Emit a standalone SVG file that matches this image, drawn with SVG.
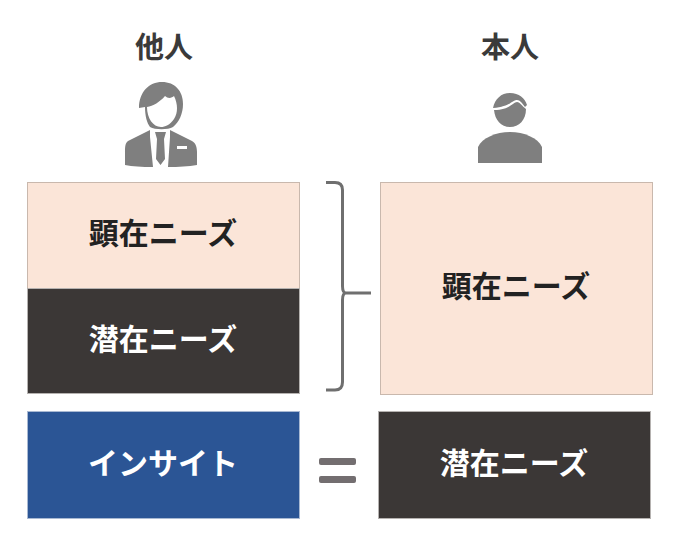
<svg xmlns="http://www.w3.org/2000/svg" width="678" height="547" viewBox="0 0 678 547">
<style>
text{font-family:"Noto Sans CJK JP","Noto Sans",sans-serif;font-weight:700;text-anchor:middle}
.h{font-size:29px;fill:#3a3a3a}
.l{font-size:30px}
.d{fill:#222}
.w{fill:#fff}
.pe{fill:#fbe5d8;stroke:#c9b8ad;stroke-width:1}
.dk{fill:#3b3736;stroke:#b5b2b0;stroke-width:1}
.ic{fill:#7f7f7f}
</style>
<rect width="678" height="547" fill="#fff"/>
<g id="label-other"><text class="h" x="164" y="58">他人</text></g>
<g id="label-self"><text class="h" x="510" y="58">本人</text></g>
<g id="icon-other">
<path class="ic" d="M139 108C139 92 149 82 162 82C175 82 183 91 183 104C183 114 179 122 173 127C168 130 155 130 150 127C147 123 145 116 145 107Z"/>
<path fill="#fff" d="M147 107C153 106 160 102 165 96C168 99 172 98 174 96C178 104 178 113 174 119C170 125 165 127 161 127C153 127 147 118 147 107Z"/>
<path class="ic" d="M150 130L128 141C125 143 125 148 125 152L125 165Q136 167 153 167L150 137ZM170 130L192 141C196 143 197 148 197 152L197 165Q184 167 168 167L170 137Z"/>
<path class="ic" d="M155 132H166L164 139L165 159L160.500 165L156 159L157 139Z"/>
<rect x="177" y="146" width="10" height="3" fill="#fff"/>
</g>
<g id="icon-self">
<path class="ic" d="M493 108C495 99 501 93 510 93C519 93 525 98 527 105L525 107C522 103 520 100 517 100C512 100 510 107 493 108Z"/>
<path class="ic" d="M494 110C510 110 513 102 517 102C520 102 522 106 526 109C526 120 519 127 510 127C501 127 495 120 494 110Z"/>
<path class="ic" d="M478 163H542V147C538 138 524 132 510 132C496 132 482 138 478 147Z"/>
</g>
<g id="node-other-needs"><rect class="pe" x="27.500" y="182.500" width="272" height="106"/><text class="l d" x="163" y="244">顕在ニーズ</text></g>
<g id="node-other-latent"><rect class="dk" x="27.500" y="288.500" width="272" height="105"/><text class="l w" x="163" y="350">潜在ニーズ</text></g>
<g id="node-insight"><rect x="27.500" y="411.500" width="272" height="107" fill="#2b5595" stroke="#a9b9d2"/><text class="l w" x="163" y="474">インサイト</text></g>
<g id="node-self-needs"><rect class="pe" x="380.500" y="182.500" width="272" height="212"/><text class="l d" x="516" y="297">顕在ニーズ</text></g>
<g id="node-self-latent"><rect class="dk" x="378.500" y="411.500" width="272" height="107"/><text class="l w" x="514" y="474">潜在ニーズ</text></g>
<g id="connectors">
<path d="M326 182.500H335Q342.500 182.500 342.500 190V286Q342.500 293 346 293H371M346 293Q342.500 293 342.500 300V382Q342.500 390 335 390H326" fill="none" stroke="#6f6f6f" stroke-width="3"/>
<rect x="319" y="458" width="37" height="7" rx="2" fill="#736e70"/>
<rect x="319" y="476" width="37" height="7" rx="2" fill="#736e70"/>
</g>
</svg>
